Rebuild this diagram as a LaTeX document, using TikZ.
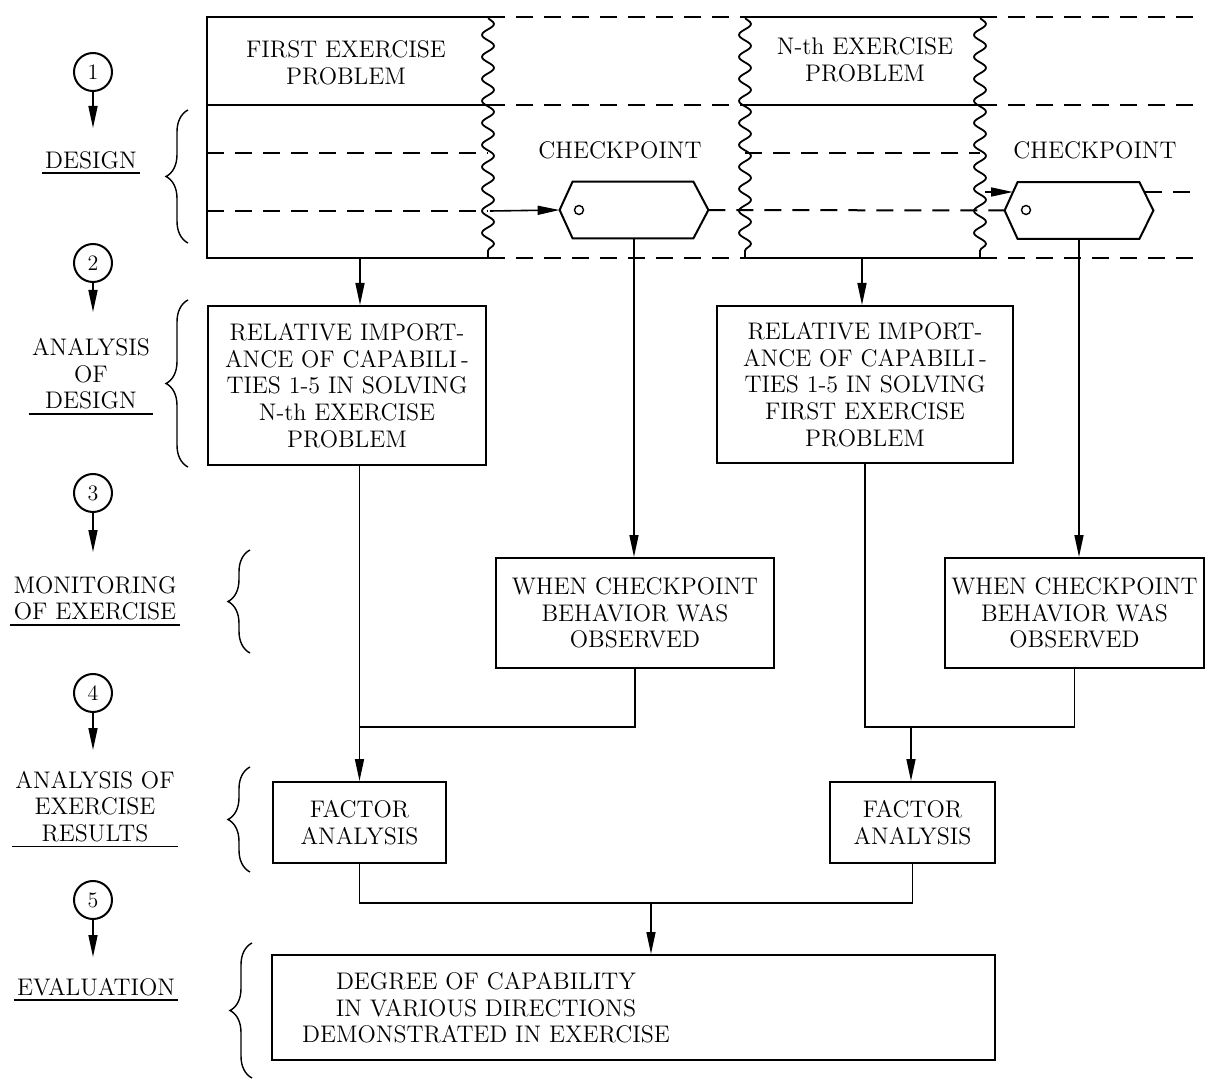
\documentclass[tikz,border=0pt]{standalone}
\usepackage{tikz}
\usetikzlibrary{arrows.meta, decorations.pathmorphing, decorations.pathreplacing}

\begin{document}
\begin{tikzpicture}[x=0.5pt, y=-0.5pt,
  font=\fontsize{12}{13.3}\selectfont,
  box/.style={draw, line width=1pt, align=center, inner sep=0pt},
  flow/.style={line width=0.8pt, -{Triangle[length=11pt,width=4.5pt]}},
  link/.style={line width=0.8pt},
  solidline/.style={line width=1pt},
  dashline/.style={line width=1pt, dash pattern=on 8.5pt off 5.5pt},
  wavy/.style={line width=0.9pt, decorate, decoration={snake, amplitude=3pt, segment length=11pt}},
  num/.style={draw, circle, line width=1pt, minimum size=19pt, inner sep=0pt, font=\fontsize{11}{12}\selectfont},
  stage/.style={align=center, inner xsep=1.5pt, inner ysep=2pt},
  curly/.style={line width=0.7pt, decorate, decoration={brace, amplitude=11pt}}]
\useasboundingbox (0,0) rectangle (1207,1081);

% left column: steps
\node[num] (s1) at (93,72) {1};
\node[num] (s2) at (93,263) {2};
\node[num] (s3) at (93,493) {3};
\node[num] (s4) at (93,693) {4};
\node[num] (s5) at (93,900) {5};
\coordinate (a1) at (93,128);
\coordinate (a2) at (93,312);
\coordinate (a3) at (93,552);
\coordinate (a4) at (93,750);
\coordinate (a5) at (93,957);
\draw[flow] (s1) -- (a1);
\draw[flow] (s2) -- (a2);
\draw[flow] (s3) -- (a3);
\draw[flow] (s4) -- (a4);
\draw[flow] (s5) -- (a5);

\node[stage] (st1) at (91,160) {DESIGN};
\node[stage] (st2) at (91,374) {ANALYSIS\\OF\\DESIGN};
\node[stage] (st3) at (95,598.5) {MONITORING\\OF EXERCISE};
\node[stage] (st4) at (95,806.5) {ANALYSIS OF\\EXERCISE\\RESULTS};
\node[stage] (st5) at (96,987) {EVALUATION};
\draw[link] (st1.south west) -- (st1.south east);
\draw[link] (st2.south west) -- (st2.south east);
\draw[link] (st3.south west) -- (st3.south east);
\draw[link] (st4.south west) -- (st4.south east);
\draw[link] (st5.south west) -- (st5.south east);

\draw[curly] (188,243) -- (188,110);
\draw[curly] (188,467) -- (188,300);
\draw[curly] (250,653) -- (250,550);
\draw[curly] (250,872) -- (250,767);
\draw[curly] (252,1078) -- (252,943);

% top band: exercise problems
\draw[solidline] (488,17) -- (207,17) -- (207,258) -- (488,258);
\draw[solidline] (207,105) -- (488,105);
\draw[wavy] (488,17) -- (488,258);
\draw[dashline] (207,153) -- (488,153);
\draw[dashline] (207,211) -- (488,211);
\draw[solidline] (745,17) -- (980,17);
\draw[solidline] (745,105) -- (980,105);
\draw[solidline] (745,258) -- (980,258);
\draw[wavy] (745,17) -- (745,258);
\draw[wavy] (980,17) -- (980,258);
\draw[dashline] (745,153) -- (980,153);
\draw[dashline] (488,17) -- (745,17) (980,17) -- (1200,17);
\draw[dashline] (488,105) -- (745,105) (980,105) -- (1200,105);
\draw[dashline] (488,258) -- (745,258) (980,258) -- (1200,258);

\node (prob1) at (346,63) [align=center] {FIRST EXERCISE\\PROBLEM};
\node (prob2) at (865,60) [align=center] {N-th EXERCISE\\PROBLEM};

% checkpoints
\node (cplab1) at (620,150) {CHECKPOINT};
\node (cplab2) at (1095,150) {CHECKPOINT};
\node (cp1) at (634,210) [minimum width=74pt, minimum height=28pt, inner sep=0pt] {};
\node (cp2) at (1079,210.5) [minimum width=74pt, minimum height=28pt, inner sep=0pt] {};
\draw[solidline] (cp1.west) -- ([xshift=6.5pt]cp1.north west) -- ([xshift=-7.5pt]cp1.north east) -- (cp1.east) -- ([xshift=-7.5pt]cp1.south east) -- ([xshift=6.5pt]cp1.south west) -- cycle;
\draw[solidline] (cp2.west) -- ([xshift=6.5pt]cp2.north west) -- ([xshift=-7pt]cp2.north east) -- (cp2.east) -- ([xshift=-7pt]cp2.south east) -- ([xshift=6.5pt]cp2.south west) -- cycle;
\node[draw, circle, line width=0.7pt, minimum size=4.5pt, inner sep=0pt] (o1) at (579,210) {};
\node[draw, circle, line width=0.7pt, minimum size=4.5pt, inner sep=0pt] (o2) at (1026,210) {};

\coordinate (w1) at (490,211);
\coordinate (w2) at (985,192);
\coordinate (cp2in) at (1013,192);
\coordinate (cp2out) at (1145,192);
\coordinate (bandend) at (1200,192);
\draw[flow] (w1) -- (cp1.west);
\draw[flow] (w2) -- (cp2in);
\draw[dashline] (cp1.east) -- (cp2.west);
\draw[dashline] (cp2out) -- (bandend);

% analysis boxes
\node[box, minimum width=139pt, minimum height=79.5pt] (ri1) at (347,385.5) {RELATIVE IMPORT-\\ANCE OF CAPABILI\,-\\TIES 1-5 IN SOLVING\\N-th EXERCISE\\PROBLEM};
\node[box, minimum width=148pt, minimum height=78.5pt] (ri2) at (865,384.5) {RELATIVE IMPORT-\\ANCE OF CAPABILI\,-\\TIES 1-5 IN SOLVING\\FIRST EXERCISE\\PROBLEM};
\node[box, minimum width=139pt, minimum height=55pt] (wcp1) at (635,613) {WHEN CHECKPOINT\\BEHAVIOR WAS\\OBSERVED};
\node[box, minimum width=129.5pt, minimum height=55pt] (wcp2) at (1074.5,613) {WHEN CHECKPOINT\\BEHAVIOR WAS\\OBSERVED};
\node[box, minimum width=86.5pt, minimum height=40.5pt] (fa1) at (359.5,822.5) {FACTOR\\ANALYSIS};
\node[box, minimum width=82.5pt, minimum height=40.5pt] (fa2) at (912.5,822.5) {FACTOR\\ANALYSIS};
\node[box, minimum width=361.5pt, minimum height=52.5pt] (eval) at (633.5,1007.5) {};
\node[align=center] (evaltxt) at (486,1008) {DEGREE OF CAPABILITY\\IN VARIOUS DIRECTIONS\\DEMONSTRATED IN EXERCISE};

% connectors
\coordinate (p1b) at (360,258);
\coordinate (p2b) at (862,258);
\draw[flow] (p1b) -- (p1b |- ri1.north);
\draw[flow] (p2b) -- (p2b |- ri2.north);
\draw[flow] (cp1.south) -- (cp1.south |- wcp1.north);
\draw[flow] (cp2.south) -- (cp2.south |- wcp2.north);
\draw[flow] (fa1.north |- ri1.south) -- (fa1.north);
\coordinate (j1) at (359,727);
\coordinate (j2) at (911,727);
\coordinate (j3) at (651,903);
\draw[link] (wcp1.south) |- (j1);
\draw[link] (ri2.south) |- (j2) -| (wcp2.south);
\draw[flow] (j2) -- (j2 |- fa2.north);
\draw[link] (fa1.south) |- (j3);
\draw[link] (fa2.south) |- (j3);
\draw[flow] (j3) -- (j3 |- eval.north);
\end{tikzpicture}
\end{document}
